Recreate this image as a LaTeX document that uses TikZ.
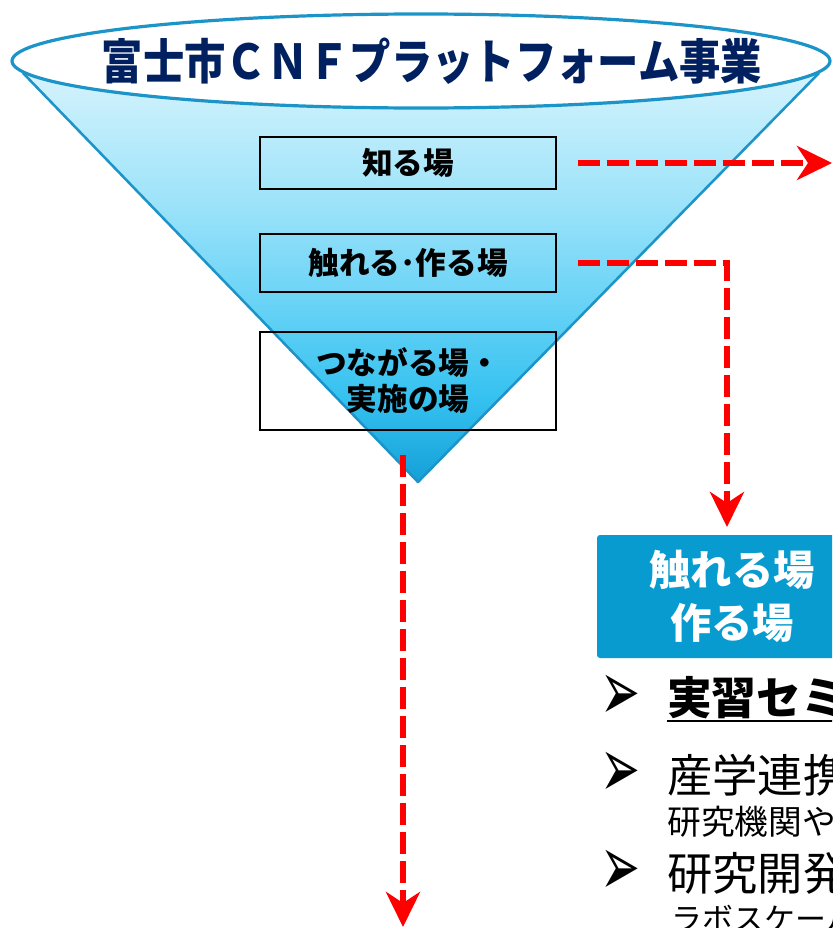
\documentclass[tikz,border=0pt]{standalone}
\usepackage{graphicx}
\usepackage{fontspec}
\setmainfont{Noto Sans CJK JP}
\newfontfamily\dejavu{DejaVu Sans}
\usetikzlibrary{arrows.meta}
\definecolor{navy}{RGB}{0,32,96}
\definecolor{rimblue}{RGB}{28,148,200}
\definecolor{boxblue}{RGB}{8,155,208}
\definecolor{fa}{RGB}{212,243,252}
\definecolor{fb}{RGB}{160,228,250}
\definecolor{fc}{RGB}{105,211,246}
\definecolor{fd}{RGB}{52,193,240}
\definecolor{fe}{RGB}{20,160,215}
\pgfdeclareverticalshading{funnel}{100bp}{color(0bp)=(fe); color(25bp)=(fe); color(35bp)=(fd); color(47bp)=(fc); color(60bp)=(fb); color(75bp)=(fa); color(100bp)=(fa)}
\newcommand{\arrowbullet}{\resizebox*{30pt}{34pt}{\dejavu ➢}}
\tikzset{
  place/.style={draw=black, line width=1.1pt, minimum width=222pt, inner sep=0pt,
    font=\fontsize{23pt}{27pt}\selectfont\bfseries, align=center},
  flow/.style={red, line width=4.5pt, dash pattern=on 16.5pt off 5.25pt,
    -{Stealth[length=26.25pt, width=25.5pt, inset=8.25pt]}},
  bigitem/.style={anchor=west, inner sep=0pt, font=\fontsize{34pt}{36pt}\selectfont},
  smallitem/.style={anchor=west, inner sep=0pt, font=\fontsize{25.3pt}{28pt}\selectfont},
  bulletmark/.style={inner sep=0pt},
}
\begin{document}
\begin{tikzpicture}[x=0.75pt, y=-0.75pt]
\useasboundingbox (0,0) rectangle (832,928);
\clip (0,0) rectangle (832,928);
% funnel
\shade[shading=funnel] (23,73) -- (819,73) -- (418,482) -- cycle;
\draw[rimblue, line width=1.9pt, line join=round] (23,73) -- (418,482) -- (819,73);
\draw[rimblue, line width=2.4pt, fill=white] (421,61) ellipse [x radius=409, y radius=47];
\node (title) at (432,61) [inner sep=0pt, text=navy, font=\fontsize{36pt}{36pt}\selectfont\bfseries]
  {\resizebox{495pt}{\height}{富士市ＣＮＦプラットフォーム事業}};
% places
\node[place, minimum height=39pt] (know) at (408,163) {知る場};
\node[place, minimum height=43.5pt] (touch) at (408,263) {触れる･作る場};
\node[place, minimum height=73.5pt] (connect) at (408,381) {つながる場・\\実施の場};
% blue box
\node[fill=boxblue, rounded corners=2.25pt, minimum width=202.5pt, minimum height=92.25pt,
  text=white, font=\fontsize{31pt}{40pt}\selectfont\bfseries, align=center, inner sep=0pt]
  (make) at (732,596.5) {触れる場\\作る場};
% arrows
\coordinate (kend) at (832,163);
\coordinate (tend) at (727,527);
\coordinate (cstart) at (403,455);
\coordinate (cend) at (403,927);
\draw[flow] ([xshift=15.75pt]know.east) -- (kend);
\draw[flow] ([xshift=15.75pt]touch.east) -| (tend);
\draw[flow] (cstart) -- (cend);
% list
\node[bulletmark] (b1) at (620,698) {\arrowbullet};
\node[bigitem, font=\fontsize{33.5pt}{36pt}\selectfont\bfseries] (i1) at (667,698) {実習セミナー};
\draw[line width=1.5pt] ([yshift=-0.75pt]i1.south west) -- ([yshift=-0.75pt]i1.south east);
\node[bulletmark] (b2) at (620,775) {\arrowbullet};
\node[bigitem] (i2) at (667,775) {産学連携};
\node[smallitem] (i3) at (667,822) {研究機関や};
\node[bulletmark] (b3) at (620,873) {\arrowbullet};
\node[bigitem] (i4) at (667,873) {研究開発};
\node[smallitem, font=\fontsize{23.2pt}{28pt}\selectfont] (i5) at (671,918) {ラボスケール};
\end{tikzpicture}
\end{document}
